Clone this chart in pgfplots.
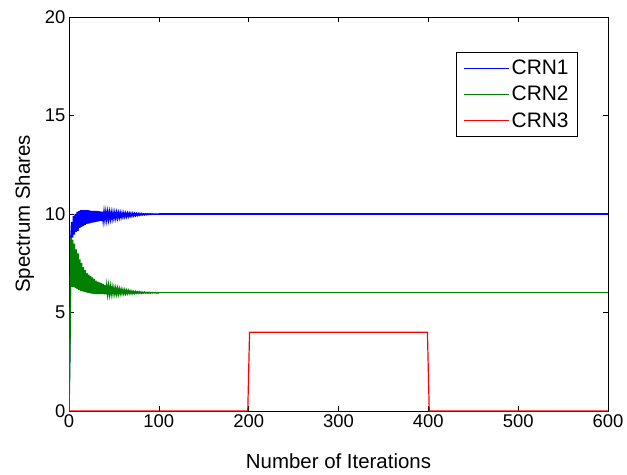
\documentclass[border=0pt]{standalone}
\usepackage{pgfplots}
\pgfplotsset{compat=1.18}
\usepackage{fontspec}
\setmainfont{Liberation Sans}
\definecolor{mgreen}{rgb}{0,0.5,0}
\pgfplotstableread{
n v
0 0.5
1 4.0
2 8.7
3 9.6
4 8.8
5 9.9
6 8.95
7 10.0
8 9.1
9 10.1
10 9.15
11 10.15
12 9.3
13 10.2
14 9.35
15 10.2
16 9.4
17 10.2
18 9.45
19 10.2
20 9.5
21 10.2
22 9.52
23 10.18
24 9.54
25 10.16
26 9.56
27 10.16
28 9.58
29 10.15
30 9.6
31 10.15
32 9.62
33 10.14
34 9.64
35 10.13
36 9.65
37 10.12
38 9.67
39 10.11
40 9.7
41 10.1
42 9.71
43 10.1
44 9.73
45 10.09
46 9.75
47 10.08
48 9.76
49 10.08
50 9.78
51 10.07
52 9.79
53 10.07
54 9.8
55 10.06
56 9.82
57 10.06
58 9.83
59 10.05
60 9.85
61 10.05
62 9.86
63 10.04
64 9.87
65 10.04
66 9.88
67 10.04
68 9.89
69 10.03
70 9.9
71 10.03
72 9.91
73 10.03
74 9.92
75 10.02
76 9.93
77 10.02
78 9.94
79 10.02
80 9.95
81 10.02
82 9.96
83 10.01
84 9.96
85 10.01
86 9.97
87 10.01
88 9.97
89 10.01
90 9.98
91 10.01
92 9.98
93 10.0
94 9.99
95 10.0
96 9.99
97 10.0
98 9.99
99 10.0
100 10.0
}\crnone
\pgfplotstableread{
n v
0 0
1 3.0
2 8.8
3 6.3
4 8.7
5 6.3
6 8.5
7 6.25
8 8.2
9 6.2
10 8.0
11 6.15
12 7.7
13 6.1
14 7.5
15 6.08
16 7.3
17 6.05
18 7.15
19 6.02
20 7.0
21 6.0
22 6.92
23 5.98
24 6.85
25 5.96
26 6.78
27 5.95
28 6.7
29 5.94
30 6.62
31 5.93
32 6.57
33 5.93
34 6.53
35 5.93
36 6.49
37 5.93
38 6.45
39 5.93
40 6.4
41 5.93
42 6.37
43 5.94
44 6.34
45 5.94
46 6.31
47 5.94
48 6.28
49 5.95
50 6.25
51 5.95
52 6.23
53 5.95
54 6.21
55 5.95
56 6.19
57 5.96
58 6.17
59 5.96
60 6.15
61 5.96
62 6.14
63 5.96
64 6.12
65 5.97
66 6.11
67 5.97
68 6.09
69 5.97
70 6.08
71 5.97
72 6.07
73 5.97
74 6.06
75 5.98
76 6.05
77 5.98
78 6.05
79 5.98
80 6.04
81 5.98
82 6.03
83 5.99
84 6.03
85 5.99
86 6.02
87 5.99
88 6.02
89 5.99
90 6.02
91 5.99
92 6.01
93 6.0
94 6.01
95 6.0
96 6.01
97 6.0
98 6.0
99 6.0
100 6.0
}\crntwo
\begin{document}
\begin{tikzpicture}
\begin{axis}[
  scale only axis, width=539bp, height=394bp,
  xmin=0, xmax=600, ymin=0, ymax=20,
  xtick={0,100,...,600}, ytick={0,5,10,15,20},
  tick align=inside, tick pos=both,
  major tick length=5bp,
  axis line style={line width=0.6bp},
  tick style={line width=0.6bp, black},
  /pgf/number format/assume math mode=true,
  tick label style={font=\fontsize{18.5}{20}\selectfont},
  label style={font=\fontsize{20.5}{22}\selectfont},
  xlabel={Number of Iterations}, ylabel={Spectrum Shares},
  xlabel style={at={(axis description cs:0.5,-0.1447)}, anchor=base},
  ylabel style={at={(axis description cs:-0.0724,0.5)}, anchor=base},
  legend style={at={(0.944,0.911)}, anchor=north east, font=\fontsize{21}{22}\selectfont,
    inner xsep=7bp, inner ysep=6bp, row sep=6bp,
    nodes={inner sep=2bp}},
  legend cell align=left,
  legend image code/.code={\draw[mark repeat=2,mark phase=2,#1,line width=1.4bp] plot coordinates {(0bp,0bp) (22.5bp,0bp) (45bp,0bp)};},
]
\addplot[draw=blue, line width=1.2bp] coordinates {(100,10.0)(600,10.0)};
\addlegendentry{CRN1}
\addplot[draw=mgreen, line width=1.2bp] coordinates {(100,6.0)(600,6.0)};
\addlegendentry{CRN2}
\addplot[draw=red, line width=1.2bp] coordinates {
(0,0)(199,0)(201,4)(399,4)(401,0)(600,0)};
\addlegendentry{CRN3}
\addplot[draw=blue, line width=1.5bp, forget plot] table[x=n,y=v] {\crnone};
\addplot[draw=mgreen, line width=1.5bp, forget plot] table[x=n,y=v] {\crntwo};
\end{axis}
\pgfresetboundingbox
\path ([shift={(-69bp,-63bp)}]current axis.south west) rectangle ([shift={(19bp,17bp)}]current axis.north east);
\end{tikzpicture}
\end{document}
